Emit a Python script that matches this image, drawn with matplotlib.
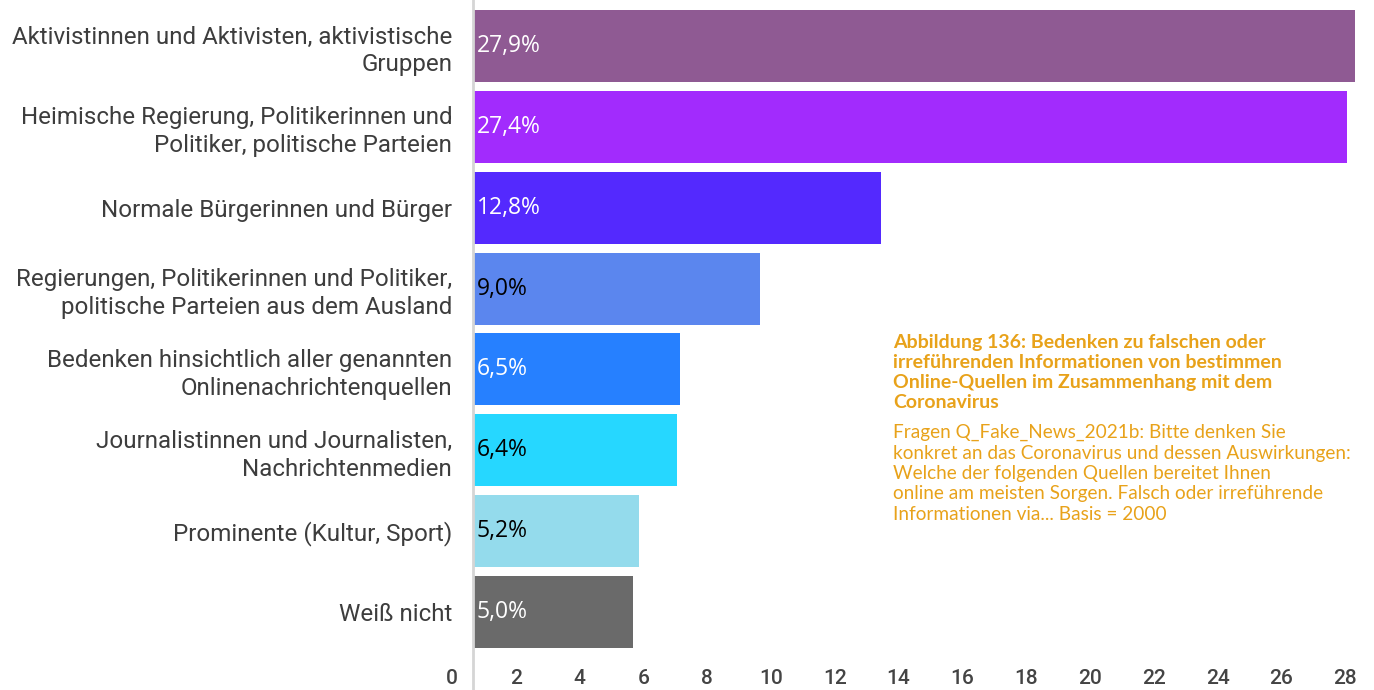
import matplotlib
matplotlib.use("Agg")
import matplotlib.pyplot as plt
from matplotlib.transforms import ScaledTranslation
from matplotlib.patches import Rectangle

categories = [
    "Aktivistinnen und Aktivisten, aktivistische\nGruppen",
    "Heimische Regierung, Politikerinnen und\nPolitiker, politische Parteien",
    "Normale Bürgerinnen und Bürger",
    "Regierungen, Politikerinnen und Politiker,\npolitische Parteien aus dem Ausland",
    "Bedenken hinsichtlich aller genannten\nOnlinenachrichtenquellen",
    "Journalistinnen und Journalisten,\nNachrichtenmedien",
    "Prominente (Kultur, Sport)",
    "Weiß nicht",
]
values = [27.9, 27.4, 12.8, 9.0, 6.5, 6.4, 5.2, 5.0]
value_labels = ["27,9%", "27,4%", "12,8%", "9,0%", "6,5%", "6,4%", "5,2%", "5,0%"]
colors = ["#8F5A93", "#A22BFD", "#5429FE", "#5B86EE", "#2680FF", "#26D7FF", "#94DBEC", "#6A6A6A"]
label_colors = ["white", "white", "white", "black", "white", "black", "black", "white"]
xticks = list(range(0, 29, 2))

title_lines = ("Abbildung 136: Bedenken zu falschen oder\n"
               "irreführenden Informationen von bestimmen\n"
               "Online-Quellen im Zusammenhang mit dem\n"
               "Coronavirus")
body_lines = ("Fragen Q_Fake_News_2021b: Bitte denken Sie\n"
              "konkret an das Coronavirus und dessen Auswirkungen:\n"
              "Welche der folgenden Quellen bereitet Ihnen\n"
              "online am meisten Sorgen. Falsch oder irreführende\n"
              "Informationen via... Basis = 2000")

W, H = 1374, 690
fig = plt.figure(figsize=(W / 100, H / 100), dpi=100)
left, right = 473, 1374
top, bottom = 5.6, 652.4
scale = 31.9  # px per unit
ax = fig.add_axes([left / W, 1 - bottom / H, (right - left) / W, (bottom - top) / H])

pos = list(range(len(values)))
bars = ax.barh(pos, values, height=0.89, color=colors)
ax.set_ylim(len(values) - 0.5, -0.5)
ax.set_xlim(0, (right - left) / scale)
plot_end = (1355 - left) / scale
clip = Rectangle((0, -1), plot_end, 10, transform=ax.transData)
for b in bars:
    b.set_clip_path(clip)

for p, v, lab, c in zip(pos, values, value_labels, label_colors):
    ax.text(0.12, p, lab, va="center", ha="left", color=c, fontsize=16.5,
            family="Open Sans")

ax.set_yticks(pos)
ax.set_yticklabels(categories, fontsize=17.4, color="#3D3D3D", family="Roboto",
                   linespacing=1.27)
ax.tick_params(axis="y", length=0, pad=15)
ax.set_xticks(xticks)
ax.set_xticklabels([str(t) for t in xticks], fontsize=15, color="#444444",
                   family="Roboto", fontweight="medium")
ax.tick_params(axis="x", length=0, pad=12)
off = ScaledTranslation(-21 / 100, 0, fig.dpi_scale_trans)
for lbl in ax.get_xticklabels():
    lbl.set_transform(lbl.get_transform() + off)

for s in ax.spines.values():
    s.set_visible(False)

# vertical axis line spanning full height
fig.add_artist(plt.Line2D([(left - 0.5) / W, (left - 0.5) / W], [0, 1],
                          color="#D5D5D5", lw=2, transform=fig.transFigure))

fig.text(893 / W, 1 - 334 / H, title_lines, ha="left", va="top", fontsize=14,
         fontweight="bold", color="#E8A21A", family="Lato", linespacing=1.22)
fig.text(893 / W, 1 - 424 / H, body_lines, ha="left", va="top", fontsize=13.7,
         color="#E8A21A", family="Lato", linespacing=1.24)

fig.savefig("out.png", dpi=100)
